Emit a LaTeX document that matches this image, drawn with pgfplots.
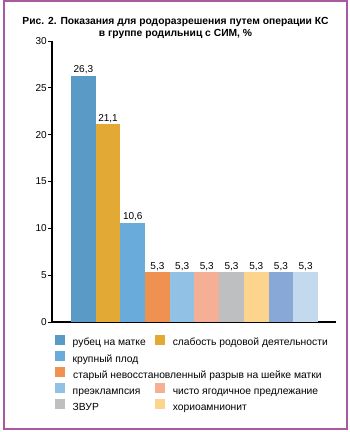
\documentclass[border=0pt]{standalone}
\usepackage{fontspec}
\setmainfont{Liberation Sans}
\usepackage{pgfplots}
\pgfplotsset{compat=1.18}
\definecolor{c1}{HTML}{5A9AC6}
\definecolor{c2}{HTML}{E2AA34}
\definecolor{c3}{HTML}{69ABDA}
\definecolor{c4}{HTML}{EF9150}
\definecolor{c5}{HTML}{92C1E6}
\definecolor{c6}{HTML}{F4AF95}
\definecolor{c7}{HTML}{BEBFC1}
\definecolor{c8}{HTML}{FDD48E}
\definecolor{c9}{HTML}{88A9D8}
\definecolor{c10}{HTML}{C2D9EE}
\definecolor{bordercol}{HTML}{A9599F}
\begin{document}
\begin{tikzpicture}[x=1pt,y=1pt]
\useasboundingbox (0,0) rectangle (350,432);
\draw[line width=2pt, bordercol] (3.5,3) rectangle (346.5,431);
\node[font=\bfseries\fontsize{10.3}{12}\selectfont, anchor=base, inner sep=0pt] at (175.5,407) {Рис. 2. Показания для родоразрешения путем операции КС};
\node[font=\bfseries\fontsize{10.3}{12}\selectfont, anchor=base, inner sep=0pt] at (175.5,395) {в группе родильниц с СИМ, \%};
\begin{axis}[
  at={(52pt,110pt)}, anchor=south west, scale only axis,
  width=284pt, height=281pt,
  xmin=-1.27, xmax=10.23, ymin=0, ymax=30,
  axis x line*=bottom, axis y line*=left,
  axis line style={-, line width=1.1pt, black},
  xtick=\empty, ytick={0,5,...,30}, ytick pos=left,
  tick align=outside, major tick length=4pt,
  tick style={line width=1pt, black},
  yticklabel style={font=\fontsize{10}{12}\selectfont, inner xsep=1pt},
  /pgf/number format/assume math mode=true,
  mybar/.style={ybar, fill=#1, draw=none, bar width=1, bar shift=0pt, forget plot},
  nodes near coords={\pgfmathprintnumber[fixed,fixed zerofill,precision=1,use comma,assume math mode=true]{\pgfplotspointmeta}},
  every node near coord/.append style={font=\fontsize{10}{12}\selectfont, inner sep=0pt, yshift=1.5pt, black},
  legend image code/.code={\fill[#1, draw=none] (0pt,-2pt) rectangle (10pt,8pt);},
  legend columns=2,
  legend cell align=left,
  legend style={at={(axis description cs:0.0106,-0.0463)}, anchor=north west,
    draw=none, fill=none, inner sep=0pt, row sep=2.8pt,
    font=\fontsize{10.3}{12}\selectfont,
    nodes={inner xsep=0pt, inner ysep=0pt, text height=8pt, text depth=2.5pt},
    /tikz/every odd column/.append style={column sep=7.5pt},
    /tikz/every even column/.append style={column sep=9.5pt}},
]
\addplot[mybar=c1] coordinates {(0,26.3)};
\addplot[mybar=c2] coordinates {(1,21.1)};
\addplot[mybar=c3] coordinates {(2,10.6)};
\addplot[mybar=c4] coordinates {(3,5.3)};
\addplot[mybar=c5] coordinates {(4,5.3)};
\addplot[mybar=c6] coordinates {(5,5.3)};
\addplot[mybar=c7] coordinates {(6,5.3)};
\addplot[mybar=c8] coordinates {(7,5.3)};
\addplot[mybar=c9] coordinates {(8,5.3)};
\addplot[mybar=c10] coordinates {(9,5.3)};
\addlegendimage{fill=c1}\addlegendentry{рубец на матке}
\addlegendimage{fill=c2}\addlegendentry{слабость родовой деятельности}
\addlegendimage{fill=c3}\addlegendentry{крупный плод}
\addlegendimage{legend image code/.code={}}\addlegendentry{}
\addlegendimage{fill=c4}\addlegendentry{\makebox[0pt][l]{старый невосстановленный разрыв на шейке матки}}
\addlegendimage{legend image code/.code={}}\addlegendentry{}
\addlegendimage{fill=c5}\addlegendentry{преэклампсия}
\addlegendimage{fill=c6}\addlegendentry{чисто ягодичное предлежание}
\addlegendimage{fill=c7}\addlegendentry{ЗВУР}
\addlegendimage{fill=c8}\addlegendentry{хориоамнионит}
\end{axis}
\end{tikzpicture}
\end{document}
